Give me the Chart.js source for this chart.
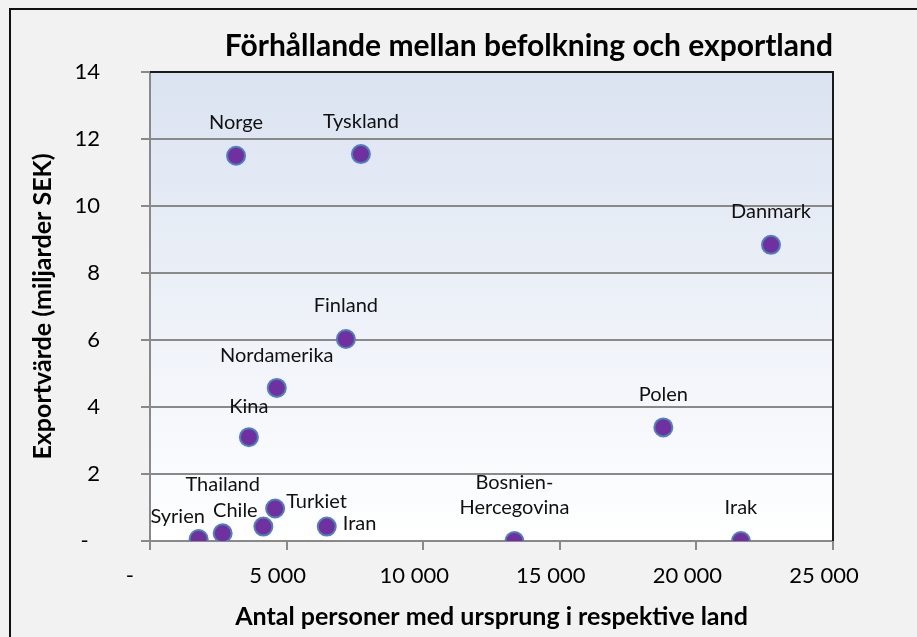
<!DOCTYPE html>
<html lang="sv">
<head>
<meta charset="utf-8">
<title>Förhållande mellan befolkning och exportland</title>
<script src="https://cdn.jsdelivr.net/npm/chart.js@4.4.1/dist/chart.umd.min.js"></script>
<style>
    html, body { margin: 0; padding: 0; background: #f2f2f2; }
    #chartWrap { width: 917px; height: 637px; }
</style>
</head>
<body>
<div id="chartWrap"><canvas id="exportChart" width="917" height="637"></canvas></div>
<script>
const countries = [
    'Norge', 'Tyskland', 'Danmark', 'Finland', 'Nordamerika', 'Kina', 'Polen',
    'Syrien', 'Thailand', 'Chile', 'Turkiet', 'Iran', 'Bosnien-Hercegovina', 'Irak'
];
// antal personer med ursprung i landet
const populationByOrigin = [3150, 7720, 22730, 7170, 4640, 3620, 18790, 1780, 2660, 4150, 4580, 6470, 13340, 21630];
// exportvärde, miljarder SEK
const exportValue = [11.50, 11.55, 8.84, 6.03, 4.57, 3.10, 3.39, 0.06, 0.23, 0.43, 0.97, 0.43, 0.00, 0.00];

const xAxisMax = 25000;
const xAxisStep = 5000;
const yAxisMax = 14;
const yAxisStep = 2;
const zeroTickLabel = '-';

class ExportScatterChart {
    constructor(canvasId) {
        this.canvas = document.getElementById(canvasId);
        this.fontFamily = 'Lato, "Open Sans", sans-serif';
        this.chart = null;

        this.initChart();
    }

    formatThousands(value) {
        if (value === 0) return zeroTickLabel + '    ';
        return String(value).replace(/\B(?=(\d{3})+(?!\d))/g, ' ');
    }

    buildPoints() {
        return countries.map((name, i) => ({
            x: populationByOrigin[i],
            y: exportValue[i],
            name: name
        }));
    }

    backdropPlugin() {
        return {
            id: 'backdrop',
            beforeDraw(chart) {
                const { ctx, chartArea: area, width, height } = chart;
                ctx.save();
                ctx.fillStyle = '#f2f2f2';
                ctx.fillRect(0, 0, width, height);

                const gradient = ctx.createLinearGradient(0, area.top, 0, area.bottom);
                gradient.addColorStop(0, '#dbe3f1');
                gradient.addColorStop(1, '#ffffff');
                ctx.fillStyle = gradient;
                ctx.fillRect(area.left, area.top, area.right - area.left, area.bottom - area.top);

                // outer frame of the chart object
                ctx.strokeStyle = '#111111';
                ctx.lineWidth = 2;
                ctx.beginPath();
                ctx.moveTo(10, height + 5);
                ctx.lineTo(10, 9);
                ctx.lineTo(width + 5, 9);
                ctx.stroke();
                ctx.restore();
            },
            afterDraw(chart) {
                const { ctx, chartArea: area } = chart;
                ctx.save();
                ctx.strokeStyle = '#1a1a1a';
                ctx.lineWidth = 2;
                ctx.beginPath();
                ctx.moveTo(area.left, area.top);
                ctx.lineTo(area.right, area.top);
                ctx.lineTo(area.right, area.bottom);
                ctx.stroke();
                ctx.restore();
            }
        };
    }

    labelPlugin() {
        const family = this.fontFamily;
        return {
            id: 'pointLabels',
            afterDatasetsDraw(chart, args, opts) {
                const { ctx } = chart;
                const meta = chart.getDatasetMeta(0);
                ctx.save();
                ctx.font = `${opts.size}px ${family}`;
                ctx.fillStyle = '#111111';
                ctx.textBaseline = 'middle';
                meta.data.forEach((el, i) => {
                    const raw = chart.data.datasets[0].data[i];
                    const [dx, dy, align] = opts.placement[raw.name] || [0, -33, 'center'];
                    const lines = raw.name.split(/(?<=-)/);
                    ctx.textAlign = align;
                    lines.forEach((line, j) => {
                        const offset = (lines.length - 1 - j) * opts.lineHeight;
                        ctx.fillText(line, el.x + dx, el.y + dy - offset);
                    });
                });
                ctx.restore();
            }
        };
    }

    initChart() {
        const family = this.fontFamily;
        const gridColor = '#898989';

        this.chart = new Chart(this.canvas.getContext('2d'), {
            type: 'scatter',
            data: {
                datasets: [{
                    label: 'Exportland',
                    data: this.buildPoints(),
                    pointRadius: 9,
                    pointHoverRadius: 9,
                    pointBorderWidth: 2,
                    pointBackgroundColor: '#7030a0',
                    pointBorderColor: '#4f81bd'
                }]
            },
            options: {
                responsive: false,
                animation: false,
                layout: {
                    padding: { left: 0, right: 84, top: 0, bottom: 0 }
                },
                scales: {
                    x: {
                        type: 'linear',
                        min: 0,
                        max: xAxisMax,
                        afterFit: (scale) => { scale.height = 96; },
                        ticks: {
                            stepSize: xAxisStep,
                            padding: 13,
                            labelOffset: -9,
                            color: '#000000',
                            font: { family: family, size: 22 },
                            maxRotation: 0,
                            callback: (value) => this.formatThousands(value)
                        },
                        grid: {
                            drawOnChartArea: false,
                            tickLength: 9,
                            color: gridColor,
                            lineWidth: 2
                        },
                        border: { color: gridColor, width: 2 },
                        title: {
                            display: true,
                            text: 'Antal personer med ursprung i respektive land',
                            color: '#000000',
                            font: { family: family, size: 25, weight: 'bold' },
                            padding: { top: 0, bottom: 5 }
                        }
                    },
                    y: {
                        min: 0,
                        max: yAxisMax,
                        afterFit: (scale) => { scale.width = 150; },
                        ticks: {
                            stepSize: yAxisStep,
                            padding: 41,
                            color: '#000000',
                            font: { family: family, size: 22 },
                            callback: (value) => value === 0 ? zeroTickLabel + '  ' : String(value)
                        },
                        grid: {
                            tickLength: 9,
                            color: gridColor,
                            lineWidth: 2
                        },
                        border: { color: gridColor, width: 2 },
                        title: {
                            display: true,
                            text: 'Exportvärde (miljarder SEK)',
                            color: '#000000',
                            font: { family: family, size: 25, weight: 'bold' },
                            padding: { top: 28, bottom: 0 }
                        }
                    }
                },
                plugins: {
                    legend: { display: false },
                    tooltip: { enabled: false },
                    title: {
                        display: true,
                        text: 'Förhållande mellan befolkning och exportland',
                        align: 'end',
                        color: '#000000',
                        font: { family: family, size: 30, weight: 'bold' },
                        padding: { top: 28, bottom: 8 }
                    },
                    pointLabels: {
                        size: 20,
                        lineHeight: 25,
                        placement: {
                            'Syrien': [-21, -22, 'center'],
                            'Thailand': [0, -49, 'center'],
                            'Chile': [-28, -16, 'center'],
                            'Turkiet': [11, -7, 'left'],
                            'Iran': [16, -3, 'left'],
                            'Nordamerika': [0, -32, 'center'],
                            'Kina': [0, -31, 'center']
                        }
                    }
                }
            },
            plugins: [this.backdropPlugin(), this.labelPlugin()]
        });
    }
}

document.addEventListener('DOMContentLoaded', () => {
    const fontsReady = document.fonts
        ? Promise.all([
            document.fonts.load('22px Lato'),
            document.fonts.load('bold 28px Lato')
        ]).catch(() => null)
        : Promise.resolve();
    fontsReady.then(() => new ExportScatterChart('exportChart'));
});
</script>
</body>
</html>
